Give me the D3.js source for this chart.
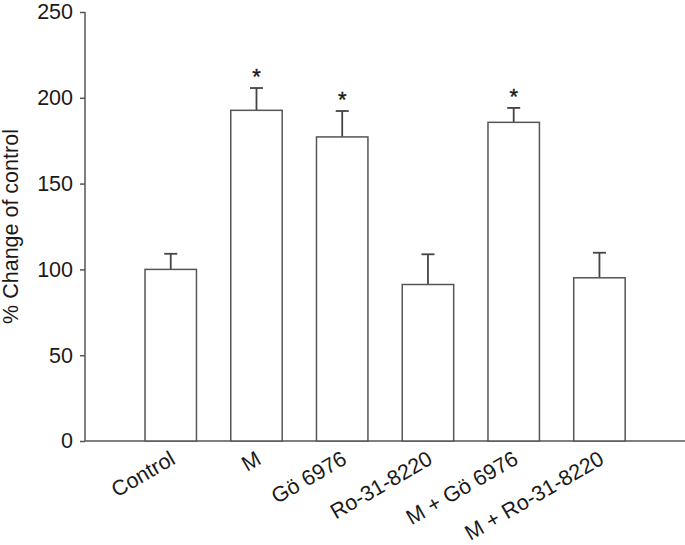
<!DOCTYPE html>
<html>
<head>
<meta charset="utf-8">
<script src="https://cdn.jsdelivr.net/npm/d3@7"></script>
<style>
  html, body { margin: 0; padding: 0; background: #fff; }
  svg { display: block; }
  text { font-family: "Liberation Sans", Arial, Helvetica, sans-serif; fill: #1a1a1a; }
</style>
</head>
<body>
<svg id="chart" width="685" height="545"></svg>
<script>
const categories = ["Control", "M", "Gö 6976", "Ro-31-8220", "M + Gö 6976", "M + Ro-31-8220"];
const means = [100, 192.7, 177.2, 91.2, 185.7, 95.1];
const errors = [9.1, 13.0, 15.1, 17.6, 8.4, 14.6];
const significant = [false, true, true, false, true, false];
const yTicks = [0, 50, 100, 150, 200, 250];
const yLabel = "% Change of control";

const svg = d3.select("#chart");
const axisColor = "#555";
const x0 = 85, yBottom = 441, yTop = 12, xEnd = 685;
const step = 85.74;
const fs = 21.5;

const x = d3.scaleBand()
  .domain(categories)
  .range([x0 + step * 0.5, x0 + step * 6.5])
  .paddingInner(0.4)
  .paddingOuter(0.2);

const y = d3.scaleLinear().domain([0, 250]).range([yBottom, yTop]);

// Y axis
const yAxis = svg.append("g")
  .attr("transform", `translate(${x0},0)`)
  .call(d3.axisLeft(y).tickValues(yTicks).tickSize(5).tickPadding(7).tickFormat(d3.format("d")));
yAxis.select(".domain").attr("stroke", axisColor).attr("stroke-width", 1.5).attr("d", `M0,${yTop}V${yBottom}`);
yAxis.selectAll(".tick line").attr("stroke", axisColor).attr("stroke-width", 1.5);
yAxis.selectAll(".tick text").attr("font-size", fs).attr("fill", "#1a1a1a")
  .attr("font-family", "'Liberation Sans', Arial, sans-serif");

// X axis
const xAxis = svg.append("g")
  .attr("transform", `translate(0,${yBottom})`)
  .call(d3.axisBottom(x).tickSize(0).tickPadding(0));
xAxis.select(".domain").attr("stroke", axisColor).attr("stroke-width", 1.5).attr("d", `M${x0},0H${xEnd}`);
xAxis.selectAll(".tick text")
  .attr("font-size", fs)
  .attr("fill", "#1a1a1a")
  .attr("font-family", "'Liberation Sans', Arial, sans-serif")
  .attr("text-anchor", "end")
  .attr("dy", 0)
  .attr("y", 0)
  .attr("transform", "translate(6,22) rotate(-30)");

// Error bars
const capHalf = 6.5;
const eb = svg.append("g").attr("stroke", "#444").attr("stroke-width", 1.8).attr("fill", "none");
categories.forEach((c, i) => {
  const cx = x(c) + x.bandwidth() / 2;
  eb.append("line").attr("x1", cx).attr("x2", cx).attr("y1", y(means[i])).attr("y2", y(means[i] + errors[i]));
  eb.append("line").attr("x1", cx - capHalf).attr("x2", cx + capHalf)
    .attr("y1", y(means[i] + errors[i])).attr("y2", y(means[i] + errors[i]));
});

// Bars
svg.append("g").selectAll("rect")
  .data(categories)
  .join("rect")
  .attr("x", d => x(d))
  .attr("y", (d, i) => y(means[i]))
  .attr("width", x.bandwidth())
  .attr("height", (d, i) => y(0) - y(means[i]))
  .attr("fill", "#fff")
  .attr("stroke", axisColor)
  .attr("stroke-width", 1.5);

// Significance stars
svg.append("g").selectAll("text")
  .data(categories.filter((c, i) => significant[i]))
  .join("text")
  .attr("x", d => x(d) + x.bandwidth() / 2)
  .attr("y", d => { const i = categories.indexOf(d); return y(means[i] + errors[i]) - 4; })
  .attr("text-anchor", "middle")
  .attr("font-size", 22)
  .attr("stroke", "#1a1a1a")
  .attr("stroke-width", 0.4)
  .text("*");

// Y label
svg.append("text")
  .attr("transform", `translate(18,${(yTop + yBottom) / 2}) rotate(-90)`)
  .attr("text-anchor", "middle")
  .attr("font-size", fs)
  .text(yLabel);
</script>
</body>
</html>
